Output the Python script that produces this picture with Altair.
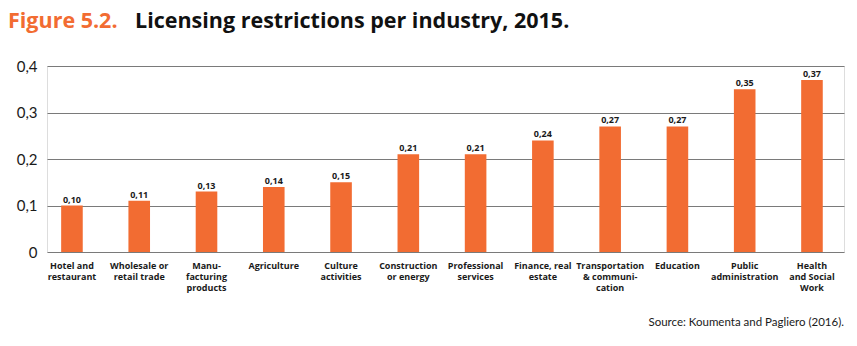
import altair as alt
import pandas as pd

categories = [
    "Hotel and\nrestaurant",
    "Wholesale or\nretail trade",
    "Manu-\nfacturing\nproducts",
    "Agriculture",
    "Culture\nactivities",
    "Construction\nor energy",
    "Professional\nservices",
    "Finance, real\nestate",
    "Transportation\n& communi-\ncation",
    "Education",
    "Public\nadministration",
    "Health\nand Social\nWork",
]
values = [0.10, 0.11, 0.13, 0.14, 0.15, 0.21, 0.21, 0.24, 0.27, 0.27, 0.35, 0.37]
labels = [f"{v:.2f}".replace(".", ",") for v in values]

df = pd.DataFrame({"industry": categories, "value": values, "label": labels})

ORANGE = "#F26C32"
FONT = "Lato"
TFONT = "Open Sans"

x = alt.X(
    "industry:N",
    sort=categories,
    scale=alt.Scale(paddingInner=0.679, paddingOuter=0.263, align=0.4),
    axis=alt.Axis(
        title=None,
        labelAngle=0,
        labelExpr="split(datum.label, '\\n')",
        labelFont=TFONT,
        labelFontSize=9,
        labelFontWeight="bold",
        labelColor="#1a1a1a",
        labelLineHeight=11.3,
        labelPadding=9,
        ticks=False,
        domain=False,
        labelLimit=200,
    ),
)
y = alt.Y(
    "value:Q",
    scale=alt.Scale(domain=[0, 0.4], nice=False),
    axis=alt.Axis(
        title=None,
        values=[0, 0.1, 0.2, 0.3, 0.4],
        labelExpr="datum.value == 0 ? '0' : replace(datum.label, '.', ',')",
        labelFont=FONT,
        labelFontSize=15,
        labelColor="#1a1a1a",
        labelPadding=10,
        ticks=False,
        domain=False,
        grid=True,
        gridColor="#7a7a7a",
        gridWidth=1,
    ),
)

base = alt.Chart(df)
bars = base.mark_bar(color=ORANGE).encode(x=x, y=y)
text = base.mark_text(
    font=TFONT, fontSize=9, fontWeight="bold", color="#1a1a1a", dy=-6
).encode(x=alt.X("industry:N", sort=categories), y="value:Q", text="label:N")

title_df = pd.DataFrame({"a": [0]})
t1 = alt.Chart(title_df).mark_text(
    text="Figure 5.2.", font=TFONT, fontSize=21.5, fontWeight="bold",
    color=ORANGE, align="left", baseline="alphabetic",
).encode(x=alt.value(-39), y=alt.value(-38))
t2 = alt.Chart(title_df).mark_text(
    text="Licensing restrictions per industry, 2015.", font=TFONT, fontSize=21.5,
    fontWeight="bold", color="#111111", align="left", baseline="alphabetic",
).encode(x=alt.value(88), y=alt.value(-38))
src = alt.Chart(title_df).mark_text(
    text="Source: Koumenta and Pagliero (2016).", font=FONT, fontSize=11.5,
    color="#1a1a1a", align="right", baseline="alphabetic",
).encode(x=alt.value(797), y=alt.value(260))

chart = alt.layer(bars, text, t1, t2, src).properties(
    width=797,
    height=186,
    autosize=alt.AutoSizeParams(type="none"),
    padding={"left": 47, "top": 66, "right": 13, "bottom": 94},
).configure_view(stroke=None).configure(background="white")

chart.save("out.html", embed_options={"renderer": "svg", "actions": False})
